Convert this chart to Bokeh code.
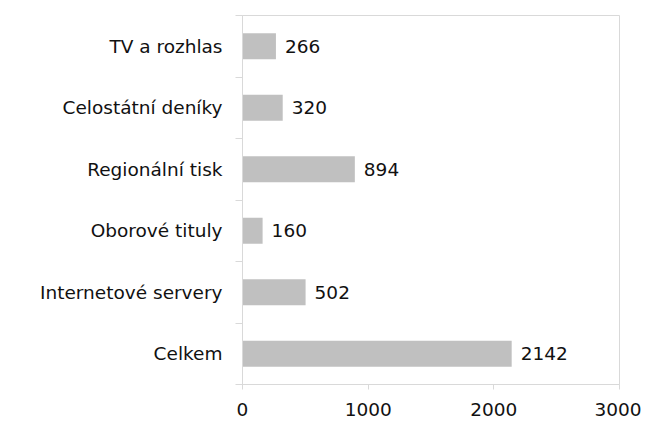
from bokeh.plotting import figure
from bokeh.models import FixedTicker, ColumnDataSource, Range1d
from bokeh.embed import file_html
from bokeh.resources import INLINE
from bokeh.core.properties import value

categories = ["TV a rozhlas", "Celostátní deníky", "Regionální tisk",
              "Oborové tituly", "Internetové servery", "Celkem"]
values = [266, 320, 894, 160, 502, 2142]
x_ticks = [0, 1000, 2000, 3000]

n = len(categories)
# position top-to-bottom: first category at top
ypos = [n - 1 - i + 0.5 for i in range(n)]
src = ColumnDataSource(dict(y=ypos, v=values, lbl=[str(v) for v in values]))

FONT = "DejaVu Sans"
FS = "18.5px"

p = figure(frame_width=377, frame_height=369, output_backend="svg", toolbar_location=None,
           x_range=Range1d(0, 3000), y_range=Range1d(0, n),
           min_border_left=242, min_border_right=22, min_border_top=15, min_border_bottom=36)

p.hbar(y="y", right="v", left=0, height=0.42, source=src, color="#c0c0c0", line_color=None)
p.text(x="v", y="y", text="lbl", source=src, x_offset=9, text_baseline="middle",
       text_align="left", text_font=value(FONT), text_font_size=FS, text_color="#111111")

p.xgrid.visible = False
p.ygrid.visible = False
p.outline_line_color = "#d9d9d9"
p.outline_line_width = 1

xa = p.xaxis[0]
xa.ticker = FixedTicker(ticks=x_ticks)
xa.axis_line_color = "#d9d9d9"
xa.major_tick_line_color = "#d9d9d9"
xa.major_tick_in = 0
xa.major_tick_out = 5
xa.minor_tick_line_color = None
xa.major_label_text_font = FONT
xa.major_label_text_font_size = FS
xa.major_label_text_color = "#111111"
xa.major_label_standoff = 13

ya = p.yaxis[0]
ya.ticker = FixedTicker(ticks=ypos, minor_ticks=list(range(n + 1)))
ya.major_label_overrides = {y: c for y, c in zip(ypos, categories)}
ya.axis_line_color = "#d9d9d9"
ya.major_tick_line_color = None
ya.major_tick_in = 0
ya.major_tick_out = 0
ya.minor_tick_line_color = "#d9d9d9"
ya.minor_tick_in = 0
ya.minor_tick_out = 7
ya.major_label_text_font = FONT
ya.major_label_text_font_size = FS
ya.major_label_text_color = "#111111"
ya.major_label_standoff = 13

open("out.html", "w").write(file_html(p, INLINE))
